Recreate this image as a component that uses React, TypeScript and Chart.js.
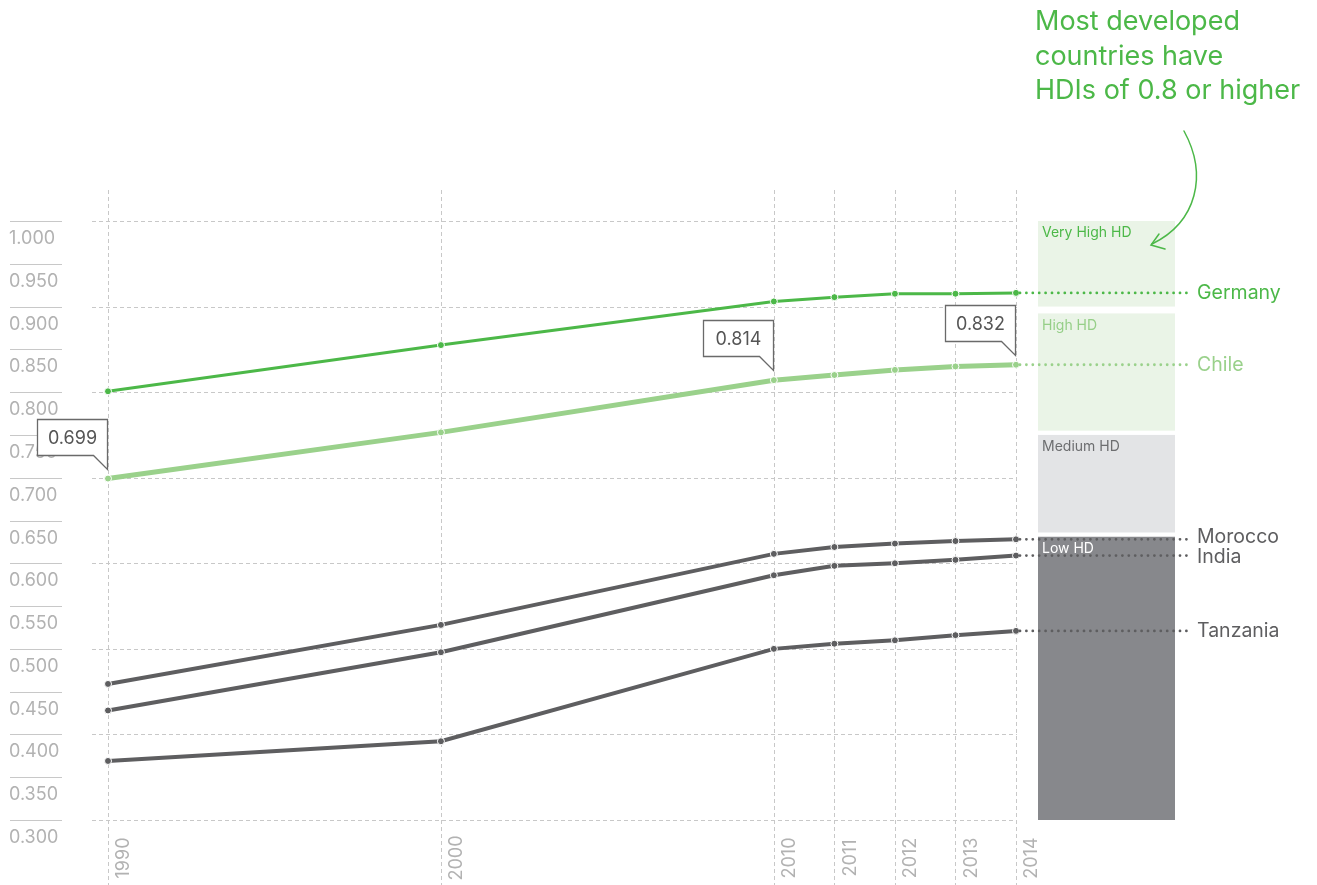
import React, { useEffect, useRef } from "react";
import { Chart, registerables } from "chart.js";
Chart.register(...registerables);

const years = ["1990", "2000", "2010", "2011", "2012", "2013", "2014"];
const yearPositions = [0, 5.5, 11, 12, 13, 14, 15];
const germany = [0.801, 0.855, 0.906, 0.911, 0.915, 0.915, 0.916];
const chile = [0.699, 0.753, 0.814, 0.82, 0.826, 0.83, 0.832];
const morocco = [0.459, 0.528, 0.611, 0.619, 0.623, 0.626, 0.628];
const india = [0.428, 0.496, 0.586, 0.597, 0.6, 0.604, 0.609];
const tanzania = [0.369, 0.392, 0.5, 0.506, 0.51, 0.516, 0.521];

const yTickValues = [0.3, 0.35, 0.4, 0.45, 0.5, 0.55, 0.6, 0.65, 0.7, 0.75, 0.8, 0.85, 0.9, 0.95, 1.0];
const gridValues = [0.3, 0.4, 0.5, 0.6, 0.7, 0.8, 0.9, 1.0];

const bandNames = ["Very High HD", "High HD", "Medium HD", "Low HD"];
const bandTop = [1.0, 0.892, 0.75, 0.631];
const bandBottom = [0.9, 0.755, 0.636, 0.3];

const calloutIndices = [0, 2, 6];
const titleLines = ["Most developed", "countries have", "HDIs of 0.8 or higher"];

const FONT = "Inter, 'Liberation Sans', sans-serif";
const GREEN = "#4cb848";
const LIGHT_GREEN = "#9ad18b";
const GRAY = "#5e5e60";

const seriesDefs = [
  { name: "Tanzania", data: tanzania, color: GRAY, width: 4 },
  { name: "India", data: india, color: GRAY, width: 4 },
  { name: "Morocco", data: morocco, color: GRAY, width: 4 },
  { name: "Chile", data: chile, color: LIGHT_GREEN, width: 5 },
  { name: "Germany", data: germany, color: GREEN, width: 3 },
];

const bandFill = ["#eaf4e7", "#eaf4e7", "#e3e4e6", "#87888c"];
const bandText = [GREEN, "#96cf88", "#6d6e70", "#ffffff"];
const labelNudge: Record<string, number> = { Morocco: -2, India: 2 };

const overlay = {
  id: "overlay",
  beforeDatasetsDraw(chart: any) {
    const ctx = chart.ctx;
    const xs = chart.scales.x;
    const ys = chart.scales.y;
    const xEnd = xs.getPixelForValue(yearPositions[yearPositions.length - 1]);
    ctx.save();
    ctx.strokeStyle = "#c8c8c8";
    ctx.lineWidth = 1;
    ctx.setLineDash([4, 3]);
    gridValues.forEach((v) => {
      const y = Math.round(ys.getPixelForValue(v)) + 0.5;
      ctx.beginPath();
      ctx.moveTo(xs.left - 16, y);
      ctx.lineTo(xEnd + 1, y);
      ctx.stroke();
    });
    yearPositions.forEach((p) => {
      const x = Math.round(xs.getPixelForValue(p)) + 0.5;
      ctx.beginPath();
      ctx.moveTo(x, ys.top - 31);
      ctx.lineTo(x, chart.height);
      ctx.stroke();
    });
    ctx.setLineDash([]);

    // left axis
    ctx.strokeStyle = "#c8c8c8";
    ctx.fillStyle = "#b2b2b2";
    ctx.font = `18px ${FONT}`;
    ctx.textAlign = "left";
    ctx.textBaseline = "middle";
    yTickValues.forEach((v) => {
      const y = Math.round(ys.getPixelForValue(v)) + 0.5;
      ctx.beginPath();
      ctx.moveTo(10, y);
      ctx.lineTo(62, y);
      ctx.stroke();
      ctx.fillText(v.toFixed(3), 9, y + 17);
    });

    // year labels
    years.forEach((yr, i) => {
      const x = xs.getPixelForValue(yearPositions[i]) + 16;
      ctx.save();
      ctx.translate(x, ys.bottom + 38);
      ctx.rotate(-Math.PI / 2);
      ctx.textAlign = "center";
      ctx.fillText(yr, 0, 0);
      ctx.restore();
    });

    // bands
    const bx0 = xEnd + 22;
    const bx1 = xEnd + 159;
    bandNames.forEach((name, i) => {
      const t = ys.getPixelForValue(bandTop[i]);
      const b = ys.getPixelForValue(bandBottom[i]);
      ctx.fillStyle = bandFill[i];
      ctx.fillRect(bx0, t, bx1 - bx0, b - t);
      ctx.fillStyle = bandText[i];
      ctx.font = `14px ${FONT}`;
      ctx.textAlign = "left";
      ctx.textBaseline = "middle";
      ctx.fillText(name, bx0 + 4, t + 12);
    });
    ctx.restore();
  },
  afterDatasetsDraw(chart: any) {
    const ctx = chart.ctx;
    const xs = chart.scales.x;
    const ys = chart.scales.y;
    const lastPos = yearPositions[yearPositions.length - 1];
    const xEnd = xs.getPixelForValue(lastPos);
    ctx.save();
    // leaders + labels
    seriesDefs.forEach((s) => {
      const y = ys.getPixelForValue(s.data[s.data.length - 1]);
      ctx.strokeStyle = s.color;
      ctx.lineWidth = 2.8;
      ctx.lineCap = "round";
      ctx.setLineDash([0, 6.4]);
      ctx.beginPath();
      ctx.moveTo(xEnd + 4, y);
      ctx.lineTo(1190, y);
      ctx.stroke();
      ctx.setLineDash([]);
      ctx.fillStyle = s.color;
      ctx.font = `19.5px ${FONT}`;
      ctx.textAlign = "left";
      ctx.textBaseline = "middle";
      ctx.fillText(s.name, 1197, y + (labelNudge[s.name] || 0));
    });

    // callouts
    calloutIndices.forEach((idx) => {
      const px = xs.getPixelForValue(yearPositions[idx]);
      const py = ys.getPixelForValue(chile[idx]);
      const tipX = Math.round(px - 1) + 0.5;
      const tipY = Math.round(py - 10) + 0.5;
      const right = tipX;
      const bottom = tipY - 14;
      const top = bottom - 36;
      const left = right - 70;
      ctx.beginPath();
      ctx.moveTo(left, top);
      ctx.lineTo(right, top);
      ctx.lineTo(right, tipY);
      ctx.lineTo(right - 14, bottom);
      ctx.lineTo(left, bottom);
      ctx.closePath();
      ctx.fillStyle = "#ffffff";
      ctx.fill();
      ctx.strokeStyle = "#6a6a6a";
      ctx.lineWidth = 1.3;
      ctx.stroke();
      ctx.fillStyle = "#555555";
      ctx.font = `18px ${FONT}`;
      ctx.textAlign = "center";
      ctx.textBaseline = "middle";
      ctx.fillText(chile[idx].toFixed(3), (left + right) / 2, (top + bottom) / 2 + 1);
    });

    // title
    ctx.fillStyle = GREEN;
    ctx.font = `27px ${FONT}`;
    ctx.textAlign = "left";
    ctx.textBaseline = "middle";
    titleLines.forEach((line, i) => {
      ctx.fillText(line, 1035, 22 + i * 34.5);
    });

    // arrow
    ctx.strokeStyle = GREEN;
    ctx.lineWidth = 1.5;
    ctx.beginPath();
    ctx.moveTo(1184, 131);
    ctx.bezierCurveTo(1208, 175, 1197, 222, 1152, 244);
    ctx.stroke();
    ctx.beginPath();
    ctx.moveTo(1159, 234);
    ctx.lineTo(1151, 245);
    ctx.lineTo(1165, 249);
    ctx.stroke();
    ctx.restore();
  },
};

export default function App() {
  const ref = useRef<HTMLCanvasElement | null>(null);
  useEffect(() => {
    if (!ref.current) return;
    const chart = new Chart(ref.current, {
      type: "line",
      data: {
        datasets: seriesDefs.map((s) => ({
          label: s.name,
          data: s.data.map((v, i) => ({ x: yearPositions[i], y: v })),
          borderColor: s.color,
          backgroundColor: s.color,
          borderWidth: s.width,
          pointRadius: 3.5,
          pointBorderColor: "#ffffff",
          pointBorderWidth: 1,
          pointBackgroundColor: s.color,
          tension: 0,
          clip: false as any,
        })),
      },
      options: {
        responsive: false,
        devicePixelRatio: 1,
        animation: false,
        layout: { padding: { left: 108, right: 1317 - 1016, top: 221, bottom: 885 - 820 } },
        scales: {
          x: { type: "linear", min: 0, max: 15, display: false },
          y: { type: "linear", min: 0.3, max: 1.0, display: false },
        },
        plugins: { legend: { display: false }, tooltip: { enabled: false } },
        events: [],
      },
      plugins: [overlay],
    });
    return () => chart.destroy();
  }, []);
  return (
    <div style={{ position: "fixed", left: 0, top: 0, width: 1317, height: 885, background: "#fff" }}>
      <canvas ref={ref} width={1317} height={885} style={{ width: 1317, height: 885 }} />
    </div>
  );
}
